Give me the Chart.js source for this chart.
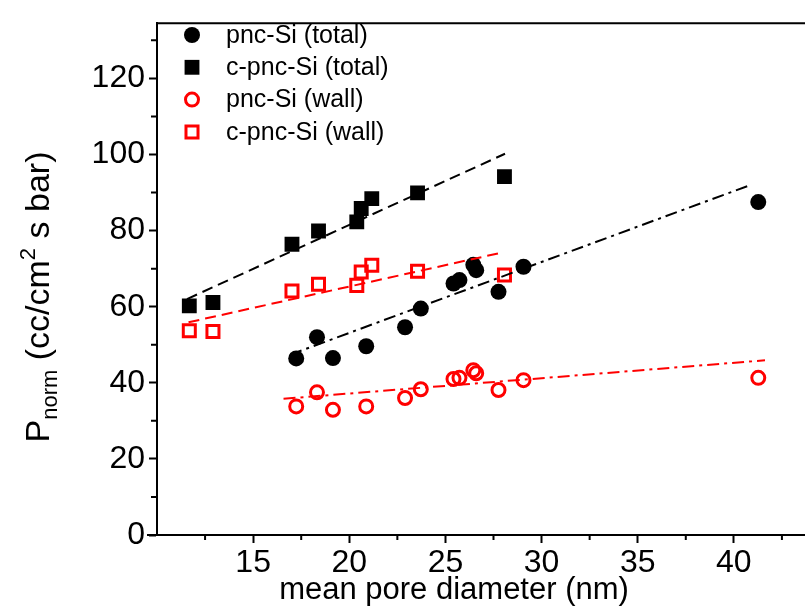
<!DOCTYPE html>
<html>
<head>
<meta charset="utf-8">
<script src="https://cdn.jsdelivr.net/npm/chart.js@4.4.1/dist/chart.umd.min.js"></script>
<style>
  html, body { margin: 0; padding: 0; background: #fff; overflow: hidden; }
  #wrap { width: 805px; height: 608px; }
</style>
</head>
<body>
<div id="wrap"><canvas id="chart" width="805" height="608"></canvas></div>
<script>
/* ---------- data ---------- */
const pncDiam = [17.24, 18.32, 19.15, 20.88, 22.9, 23.72, 25.42, 25.73, 26.45, 26.6, 27.76, 29.06, 41.27];
const pncTotal = [46.4, 52.0, 46.5, 49.6, 54.6, 59.5, 66.1, 67.0, 71.0, 69.6, 63.9, 70.5, 87.5];
const pncWall = [33.8, 37.5, 32.9, 33.8, 36.0, 38.3, 41.0, 41.3, 43.3, 42.5, 38.1, 40.7, 41.3];

const cpncDiam = [11.68, 12.91, 17.02, 18.4, 20.39, 20.62, 21.17, 23.55, 28.07];
const cpncTotal = [60.2, 61.1, 76.4, 79.9, 82.3, 85.8, 88.4, 89.9, 94.2];
const cpncWall = [53.7, 53.5, 64.1, 65.9, 65.6, 69.1, 70.9, 69.3, 68.3];

// linear fits, drawn as end points
const fitCpncTotalX = [11.56, 28.1];
const fitCpncTotalY = [62.0, 100.2];
const fitCpncWallX = [11.64, 28.01];
const fitCpncWallY = [55.9, 74.3];
const fitPncTotalX = [16.93, 40.93];
const fitPncTotalY = [47.4, 92.1];
const fitPncWallX = [16.58, 41.62];
const fitPncWallY = [35.8, 45.9];

const legendLabels = ["pnc-Si (total)", "c-pnc-Si (total)", "pnc-Si (wall)", "c-pnc-Si (wall)"];
const xTickLabels = [15, 20, 25, 30, 35, 40];
const yTickLabels = [0, 20, 40, 60, 80, 100, 120];
const xTitle = "mean pore diameter (nm)";

const FONT = '"Liberation Sans", Arial, sans-serif';
const RED = "#ff0000";

function pts(xs, ys) {
  return xs.map((x, i) => ({ x: x, y: ys[i] }));
}

function markers(label, xs, ys, style, color, filled, r) {
  return {
    label: label,
    data: pts(xs, ys),
    showLine: false,
    pointStyle: style,
    pointRadius: r,
    pointHoverRadius: r,
    pointBorderWidth: filled ? 0 : 3,
    pointBorderColor: color,
    pointBackgroundColor: filled ? color : "rgba(0,0,0,0)",
  };
}

function fit(xs, ys, color, dash) {
  return {
    label: "fit",
    data: pts(xs, ys),
    showLine: true,
    borderColor: color,
    borderWidth: 2,
    borderDash: dash,
    pointRadius: 0,
    fill: false,
  };
}

const DASH = [11, 6];
const DASHDOT = [12, 5, 3, 5];

/* ---------- minor ticks, frame, legend, axis titles ---------- */
const extras = {
  id: "extras",
  afterDraw(chart) {
    const { ctx, chartArea: a, scales } = chart;
    ctx.save();
    ctx.strokeStyle = "#000";
    ctx.lineWidth = 2;

    // top frame + small overhang of bottom axis
    ctx.beginPath();
    ctx.moveTo(a.left - 1, a.top);
    ctx.lineTo(a.right, a.top);
    ctx.moveTo(a.left - 10, a.bottom);
    ctx.lineTo(a.left, a.bottom);
    ctx.stroke();

    // minor ticks
    ctx.beginPath();
    scales.x.ticks.forEach((t) => {
      if (t.value % 5 !== 0 && t.value > 10) {
        const px = scales.x.getPixelForValue(t.value);
        ctx.moveTo(px, a.bottom);
        ctx.lineTo(px, a.bottom + 5);
      }
    });
    scales.y.ticks.forEach((t) => {
      if (t.value % 20 !== 0) {
        const py = scales.y.getPixelForValue(t.value);
        ctx.moveTo(a.left, py);
        ctx.lineTo(a.left - 6, py);
      }
    });
    ctx.stroke();

    // legend
    const leg = [
      { style: "circle", color: "#000", filled: true, r: 8 },
      { style: "rect", color: "#000", filled: true, r: 10.5 },
      { style: "circle", color: RED, filled: false, r: 6.5 },
      { style: "rect", color: RED, filled: false, r: 8.5 },
    ];
    ctx.font = "25px " + FONT;
    ctx.textBaseline = "middle";
    ctx.textAlign = "left";
    leg.forEach((m, i) => {
      const y = 35 + i * 32.3;
      ctx.fillStyle = m.filled ? m.color : "#fff";
      ctx.strokeStyle = m.color;
      ctx.lineWidth = m.filled ? 0 : 3;
      Chart.helpers.drawPoint(ctx, { pointStyle: m.style, radius: m.r, borderWidth: m.filled ? 0 : 3, rotation: 0 }, 192, y);
      ctx.fillStyle = "#000";
      ctx.fillText(legendLabels[i], 226, y + 1);
    });

    // x axis title
    ctx.font = "31px " + FONT;
    ctx.textAlign = "center";
    ctx.textBaseline = "alphabetic";
    ctx.fillText(xTitle, 454, 599);

    // y axis title with sub/superscript
    const big = "34px " + FONT;
    const small = "22px " + FONT;
    const parts = [
      ["P", big, 0],
      ["norm", small, 8],
      [" (cc/cm", big, 0],
      ["2", small, -14],
      [" s bar)", big, 0],
    ];
    let total = 0;
    parts.forEach((p) => {
      ctx.font = p[1];
      total += ctx.measureText(p[0]).width;
    });
    ctx.translate(36, 297);
    ctx.rotate(-Math.PI / 2);
    ctx.textAlign = "left";
    let x = -total / 2;
    parts.forEach((p) => {
      ctx.font = p[1];
      ctx.fillText(p[0], x, 12.5 + p[2]);
      x += ctx.measureText(p[0]).width;
    });
    ctx.restore();
  },
};

/* ---------- chart ---------- */
new Chart(document.getElementById("chart").getContext("2d"), {
  type: "scatter",
  data: {
    datasets: [
      fit(fitCpncTotalX, fitCpncTotalY, "#000", DASH),
      fit(fitCpncWallX, fitCpncWallY, RED, DASH),
      fit(fitPncTotalX, fitPncTotalY, "#000", DASHDOT),
      fit(fitPncWallX, fitPncWallY, RED, DASHDOT),
      markers(legendLabels[0], pncDiam, pncTotal, "circle", "#000", true, 8),
      markers(legendLabels[1], cpncDiam, cpncTotal, "rect", "#000", true, 10.5),
      markers(legendLabels[2], pncDiam, pncWall, "circle", RED, false, 6.5),
      markers(legendLabels[3], cpncDiam, cpncWall, "rect", RED, false, 8.5),
    ],
  },
  options: {
    responsive: false,
    animation: false,
    layout: { autoPadding: false, padding: { top: 18, right: 0, bottom: 0, left: 0 } },
    plugins: { legend: { display: false }, tooltip: { enabled: false } },
    scales: {
      x: {
        type: "linear",
        min: 10,
        max: 43.7,
        afterFit(s) { s.height = 73; },
        border: { display: true, color: "#000", width: 2 },
        grid: {
          drawOnChartArea: false,
          drawTicks: true,
          tickLength: 8,
          tickWidth: 2,
          tickColor: (c) => (c.tick && xTickLabels.includes(c.tick.value) ? "#000" : "rgba(0,0,0,0)"),
        },
        ticks: {
          stepSize: 2.5,
          includeBounds: false,
          autoSkip: false,
          maxRotation: 0,
          padding: 1,
          color: "#000",
          font: { family: FONT, size: 32 },
          callback: (v) => (xTickLabels.includes(v) ? v : ""),
        },
      },
      y: {
        min: 0,
        max: 134.5,
        afterFit(s) { s.width = 157; },
        border: { display: true, color: "#000", width: 2 },
        grid: {
          drawOnChartArea: false,
          drawTicks: true,
          tickLength: 8,
          tickWidth: 2,
          tickColor: (c) => (c.tick && yTickLabels.includes(c.tick.value) ? "#000" : "rgba(0,0,0,0)"),
        },
        ticks: {
          stepSize: 10,
          includeBounds: false,
          autoSkip: false,
          padding: 4,
          color: "#000",
          font: { family: FONT, size: 32 },
          callback: (v) => (yTickLabels.includes(v) ? v : ""),
        },
      },
    },
  },
  plugins: [extras],
});
</script>
</body>
</html>
